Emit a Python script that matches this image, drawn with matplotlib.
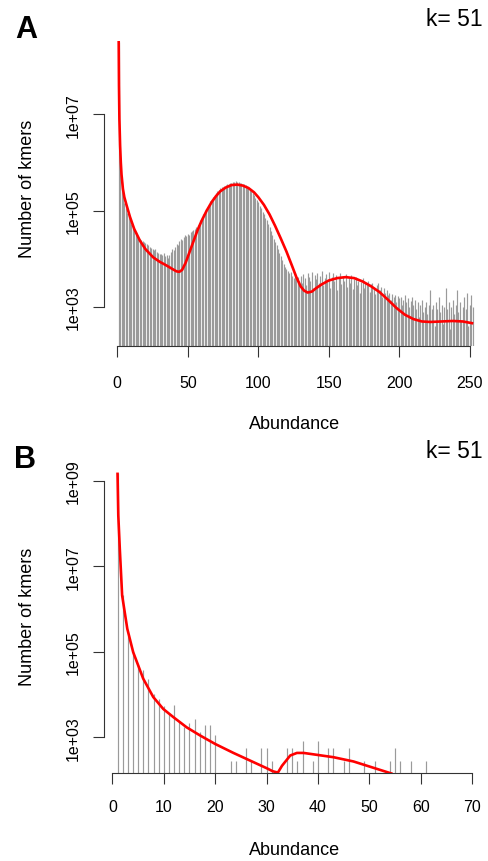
import numpy as np
import matplotlib
matplotlib.use("Agg")
import matplotlib.pyplot as plt

plt.rcParams['font.family'] = ['Liberation Sans', 'DejaVu Sans']

# ---------------------------------------------------------------
# DATA  (log10 of k-mer counts)
# ---------------------------------------------------------------
# panel A: abundance 1..252
abund_a = np.arange(1, 253)
log_count_a = [
    8.50, 6.10, 5.60, 5.30, 5.15, 5.05, 4.95, 4.88, 4.80, 4.72,
    4.65, 4.60, 4.55, 4.50, 4.45, 4.42, 4.40, 4.38, 4.35, 4.32,
    4.30, 4.28, 4.25, 4.22, 4.20, 4.18, 4.20, 4.15, 4.12, 4.10,
    4.10, 4.08, 4.12, 4.05, 4.08, 4.02, 4.08, 4.15, 4.20, 4.18,
    4.25, 4.30, 4.28, 4.38, 4.42, 4.40, 4.45, 4.50, 4.48, 4.52,
    4.50, 4.55, 4.58, 4.60, 4.62, 4.65, 4.70, 4.75, 4.80, 4.86,
    4.92, 4.97, 5.03, 5.08, 5.14, 5.19, 5.24, 5.29, 5.33, 5.36,
    5.40, 5.43, 5.46, 5.48, 5.50, 5.52, 5.54, 5.55, 5.56, 5.57,
    5.58, 5.59, 5.60, 5.61, 5.60, 5.59, 5.58, 5.57, 5.56, 5.55,
    5.53, 5.50, 5.47, 5.44, 5.40, 5.36, 5.32, 5.27, 5.22, 5.17,
    5.10, 5.05, 4.98, 4.92, 4.85, 4.80, 4.72, 4.65, 4.58, 4.50,
    4.42, 4.35, 4.28, 4.20, 4.12, 4.05, 3.98, 3.90, 3.82, 3.78,
    3.75, 3.70, 3.72, 3.65, 3.60, 3.70, 3.58, 3.62, 3.55, 3.65,
    3.50, 3.68, 3.60, 3.45, 3.70, 3.62, 3.55, 3.72, 3.40, 3.66,
    3.58, 3.70, 3.50, 3.64, 3.74, 3.45, 3.60, 3.68, 3.52, 3.72,
    3.40, 3.62, 3.70, 3.55, 3.66, 3.35, 3.60, 3.70, 3.48, 3.62,
    3.55, 3.68, 3.42, 3.60, 3.50, 3.66, 3.38, 3.58, 3.62, 3.45,
    3.55, 3.30, 3.52, 3.60, 3.40, 3.50, 3.45, 3.55, 3.32, 3.48,
    3.50, 3.40, 3.28, 3.45, 3.50, 3.35, 3.42, 3.20, 3.40, 3.30,
    3.35, 3.25, 3.30, 3.15, 3.28, 3.20, 3.25, 3.10, 3.22, 3.18,
    3.20, 3.05, 3.15, 3.25, 3.10, 3.18, 3.00, 3.12, 3.20, 3.05,
    3.15, 2.95, 3.10, 2.80, 3.05, 3.15, 2.90, 3.00, 3.10, 2.85,
    3.05, 3.35, 2.95, 3.05, 2.60, 3.10, 2.95, 3.20, 2.90, 3.05,
    2.65, 3.00, 3.40, 2.95, 3.10, 2.55, 3.00, 3.15, 2.85, 3.05,
    3.35, 2.90, 3.10, 2.70, 3.00, 3.20, 2.95, 3.30, 2.60, 3.05,
    3.25, 3.00,
]
# fitted model curve, read at selected abundances
fit_x_a = [1, 1.2, 1.5, 2, 2.5, 3, 4, 5, 6.7, 9, 12, 16, 20, 25.5, 30, 35,
           39, 42, 44, 46, 48.5, 51, 54, 57, 60, 63.4, 67, 70, 73, 77, 81,
           85, 89, 93, 97, 100, 104, 108, 112, 116, 120, 124, 127, 130,
           132.5, 135, 138, 141, 145, 150, 156, 162, 168, 174, 180, 186,
           192, 198, 204, 210, 216, 222, 230, 238, 245, 252.5]
fit_log_a = [8.52, 7.6, 6.9, 6.35, 6.0, 5.75, 5.45, 5.28, 5.1, 4.87, 4.62,
             4.38, 4.2, 4.03, 3.94, 3.86, 3.79, 3.74, 3.73, 3.77, 3.92,
             4.12, 4.36, 4.6, 4.8, 5.0, 5.18, 5.3, 5.4, 5.48, 5.53, 5.54,
             5.52, 5.47, 5.38, 5.28, 5.12, 4.92, 4.68, 4.42, 4.15, 3.85,
             3.62, 3.43, 3.34, 3.30, 3.32, 3.39, 3.47, 3.55, 3.60, 3.62,
             3.60, 3.53, 3.43, 3.31, 3.15, 2.98, 2.84, 2.75, 2.70, 2.69,
             2.70, 2.71, 2.70, 2.66]

# panel B: zoom on low abundances (zero bins are not drawn on log scale)
abund_b = list(range(1, 21)) + [23, 24, 26, 27, 29, 30, 31, 34, 35, 36, 37,
                                39, 40, 42, 43, 45, 46, 49, 51, 54, 55, 56,
                                58, 61]
log_count_b = [9.20, 6.32, 5.38, 5.03, 4.69, 4.58, 4.37, 4.01, 3.90, 3.74,
               3.55, 3.76, 3.37, 3.23, 3.33, 3.43, 3.13, 3.29, 3.29, 3.04,
               2.43, 2.43, 2.74, 2.43, 2.74, 2.74, 2.43, 2.74, 2.74, 2.43,
               2.91, 2.43, 2.91, 2.74, 2.74, 2.43, 2.74, 2.43, 2.43, 2.43,
               2.74, 2.43, 2.43, 2.43]
fit_x_b = [1, 1.15, 1.45, 1.9, 2.9, 4.05, 6, 7.95, 9.9, 11.85, 14.45, 17.05,
           20, 23.55, 26.8, 30.05, 31.2, 32.2, 33, 34.6, 35.9, 37.2, 43, 46.9,
           54.5]
fit_log_b = [9.2, 8.2, 7.4, 6.32, 5.54, 4.99, 4.37, 3.94, 3.66, 3.47, 3.23,
             3.04, 2.84, 2.63, 2.45, 2.27, 2.2, 2.17, 2.33, 2.57, 2.63, 2.63,
             2.53, 2.43, 2.14]


# ---------------------------------------------------------------
# PANEL
# ---------------------------------------------------------------
def draw_panel(ax, x, logy, fx, flogy, xlim, ylog, xticks, yticks, pad_x):
    ax.set_yscale('log')
    ax.set_xlim(*xlim)
    ax.set_ylim(10 ** ylog[0], 10 ** ylog[1])

    ax.vlines(x, 10 ** ylog[0], 10 ** np.array(logy), colors='#9a9a9a',
              linewidth=0.85)
    ax.plot(fx, 10 ** np.array(flogy), color='red', linewidth=1.9,
            solid_capstyle='butt', solid_joinstyle='round')

    for s in ['top', 'right']:
        ax.spines[s].set_visible(False)
    ax.spines['bottom'].set_bounds(xticks[0], xticks[-1])
    ax.spines['left'].set_bounds(yticks[0], yticks[-1])
    for s in ['bottom', 'left']:
        ax.spines[s].set_color('#333333')
        ax.spines[s].set_linewidth(0.8)

    ax.set_xticks(xticks)
    ax.set_yticks(yticks)
    ax.minorticks_off()
    ax.set_yticklabels([f"1e+{int(np.log10(v)):02d}" for v in yticks])
    ax.tick_params(axis='both', length=8, width=0.8, color='#333333',
                   labelsize=11.5)
    ax.tick_params(axis='x', pad=pad_x)
    ax.tick_params(axis='y', pad=9, labelrotation=90)
    for lab in ax.get_yticklabels():
        lab.set_va('center')


fig = plt.figure(figsize=(4.88, 8.62), dpi=100)

axA = fig.add_axes([0.2131, 0.5974, 0.7842, 0.3673])
draw_panel(axA, abund_a, log_count_a, fit_x_a, fit_log_a,
           (-9.43, 262), (2.19, 8.76), [0, 50, 100, 150, 200, 250],
           [1e3, 1e5, 1e7], 12.5)

axB = fig.add_axes([0.2131, 0.1021, 0.7838, 0.3619])
draw_panel(axB, abund_b, log_count_b, fit_x_b, fit_log_b,
           (-1.63, 72.77), (2.16, 9.47), [0, 10, 20, 30, 40, 50, 60, 70],
           [1e3, 1e5, 1e7, 1e9], 11)

# labels
fig.text(0.053, 0.965, "A", fontsize=22, fontweight='bold', ha='center',
         va='center')
fig.text(0.051, 0.466, "B", fontsize=22, fontweight='bold', ha='center',
         va='center')
fig.text(0.99, 1 - 20 / 862, "k= 51", fontsize=16.5, ha='right', va='center')
fig.text(0.99, 1 - 452 / 862, "k= 51", fontsize=16.5, ha='right', va='center')

fig.text(28 / 488, 1 - 189 / 862, "Number of kmers", fontsize=13,
         rotation=90, ha='center', va='center')
fig.text(28 / 488, 1 - 617 / 862, "Number of kmers", fontsize=13,
         rotation=90, ha='center', va='center')
fig.text(295 / 488, 1 - 425 / 862, "Abundance", fontsize=13,
         ha='center', va='center')
fig.text(295 / 488, 1 - 851 / 862, "Abundance", fontsize=13,
         ha='center', va='center')

fig.savefig("out.png", dpi=100)
